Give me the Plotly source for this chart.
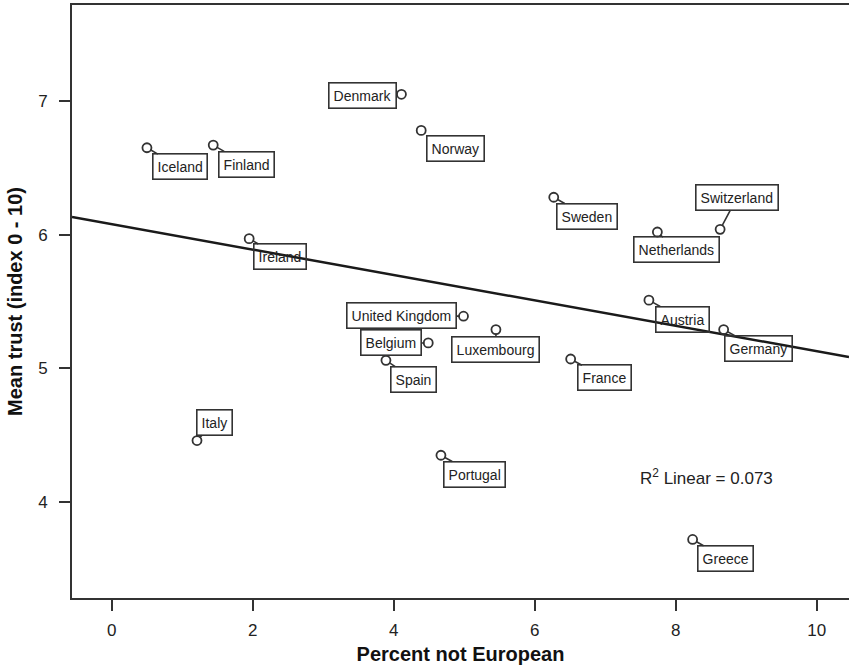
import numpy as np
import plotly.graph_objects as go

countries = ["Iceland", "Finland", "Ireland", "Denmark", "Norway", "Sweden",
             "Switzerland", "Netherlands", "Austria", "Germany", "United Kingdom",
             "Belgium", "Luxembourg", "Spain", "France", "Portugal", "Greece", "Italy"]
pct_not_european = [0.50, 1.44, 1.95, 4.11, 4.39, 6.27,
                    8.63, 7.74, 7.62, 8.68, 4.99,
                    4.49, 5.45, 3.89, 6.51, 4.67, 8.24, 1.21]
mean_trust = [6.65, 6.67, 5.97, 7.05, 6.78, 6.28,
              6.04, 6.02, 5.51, 5.29, 5.39,
              5.19, 5.29, 5.06, 5.07, 4.35, 3.72, 4.46]
# label offsets (pixels) of each label box from its point
label_dx = [33, 33, 31, -39, 34, 33, 17, 19, 34, 35, -62, -37, 0, 28, 34, 34, 33, 17]
label_dy = [19, 19, 18, 1, 18, 19, -32, 18, 19, 19, -1, 0, 20, 19, 19, 19, 19, -18]

x_ticks = [0, 2, 4, 6, 8, 10]
y_ticks = [4, 5, 6, 7]
r2_text = "R<sup>2</sup> Linear = 0.073"

x_range = [-0.563, 10.458]
y_range = [3.282, 7.718]

FONT = "Arial, Liberation Sans, sans-serif"
INK = "#333333"

slope, intercept = np.polyfit(pct_not_european, mean_trust, 1)
fit_x = np.array(x_range)
fit_y = intercept + slope * fit_x

fig = go.Figure()
fig.add_trace(go.Scatter(x=fit_x, y=fit_y, mode="lines",
                         line=dict(color="#1a1a1a", width=2.5),
                         hoverinfo="skip", showlegend=False))
fig.add_trace(go.Scatter(x=pct_not_european, y=mean_trust, mode="markers",
                         text=countries,
                         marker=dict(symbol="circle-open", size=9,
                                     color=INK, line=dict(width=1.8, color=INK)),
                         showlegend=False))

for c, xv, yv, dx, dy in zip(countries, pct_not_european, mean_trust, label_dx, label_dy):
    fig.add_annotation(x=xv, y=yv, text=c, showarrow=True, arrowhead=0,
                       arrowwidth=1.6, arrowcolor=INK, ax=dx, ay=dy, standoff=4,
                       font=dict(family=FONT, size=14, color="#222222"),
                       bordercolor=INK, borderwidth=1.6, borderpad=4,
                       bgcolor="rgba(255,255,255,0)")

fig.add_annotation(x=8.44, y=4.187, text=r2_text, showarrow=False,
                   font=dict(family=FONT, size=17, color="#222222"))

fig.update_layout(
    width=849, height=668,
    margin=dict(l=72, r=0, t=5, b=70),
    paper_bgcolor="white", plot_bgcolor="white",
    font=dict(family=FONT, color="#222222"),
    xaxis=dict(range=x_range, tickvals=x_ticks, showgrid=False, zeroline=False,
               showline=True, linecolor=INK, linewidth=2, mirror=True,
               ticks="outside", ticklen=11, tickwidth=1.5, tickcolor=INK,
               tickfont=dict(size=17, family=FONT, color="#222222"),
               ticklabelstandoff=5,
               title=dict(text="<b>Percent not European</b>", standoff=8,
                          font=dict(size=20, family=FONT, color="#111111"))),
    yaxis=dict(range=y_range, tickvals=y_ticks, showgrid=False, zeroline=False,
               showline=True, linecolor=INK, linewidth=2,
               ticks="outside", ticklen=11, tickwidth=1.5, tickcolor=INK,
               tickfont=dict(size=17, family=FONT, color="#222222"),
               ticklabelstandoff=8,
               title=dict(text="<b>Mean trust (index 0 - 10)</b>", standoff=10,
                          font=dict(size=20, family=FONT, color="#111111"))),
)

fig.write_html("out.html", config={"displayModeBar": False},
               post_script="document.body.style.margin='0';document.body.style.overflow='hidden';")
